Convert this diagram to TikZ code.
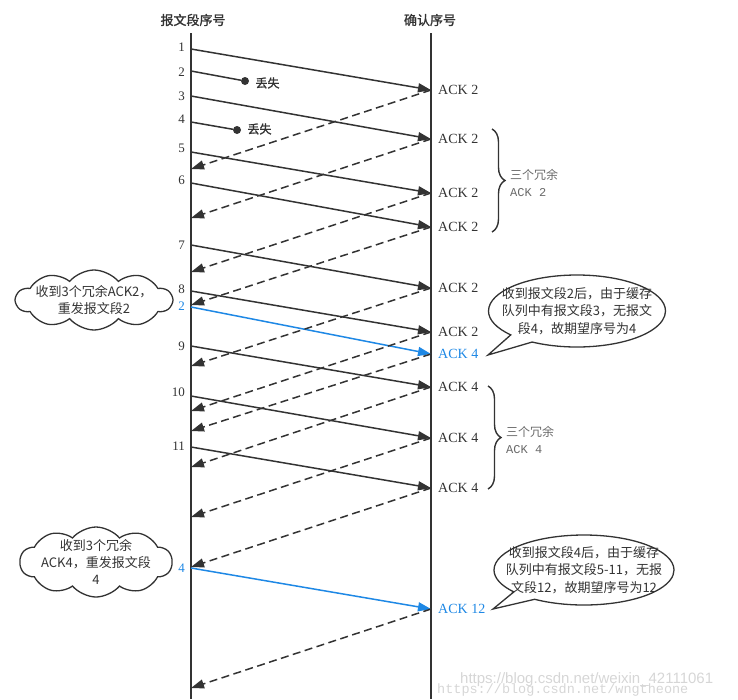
\documentclass[tikz,border=0pt]{standalone}
\usepackage{fontspec}
\setmainfont{Liberation Serif}
\setmonofont{Liberation Mono}
\newfontfamily\cjk{Noto Sans CJK SC}
\newfontfamily\cjkb[FakeBold=1.5]{Noto Sans CJK SC}
\newfontfamily\wmsans{Liberation Sans}
\usetikzlibrary{arrows.meta, decorations.pathreplacing, shapes.symbols, shapes.callouts}
\definecolor{linegray}{RGB}{51,51,51}
\definecolor{ackblue}{RGB}{30,136,229}
\definecolor{notegray}{RGB}{105,105,105}
\definecolor{markgray}{RGB}{214,214,214}
\tikzset{
  timeline/.style={line width=2.4pt, linegray},
  seg/.style={-{Triangle[length=13,width=9]}, line width=1.5pt, linegray},
  ack/.style={seg, dash pattern=on 8pt off 4.5pt},
  resend/.style={seg, ackblue},
  lostdot/.style={circle, fill=linegray, inner sep=0, minimum size=8},
  num/.style={anchor=east, inner sep=0, text=linegray, font=\fontsize{13}{13}\selectfont},
  acklabel/.style={anchor=west, inner sep=0, text=linegray, font=\fontsize{14}{14}\selectfont},
  head/.style={text=linegray, font=\cjkb\fontsize{13}{13}\selectfont},
  losttext/.style={anchor=west, text=linegray, font=\cjkb\fontsize{12}{12}\selectfont},
  dupbrace/.style={decorate, decoration={brace, amplitude=13pt, aspect=0.5}, line width=1.4pt, linegray},
  duptext/.style={anchor=west, align=left, inner sep=0, text=notegray, font=\fontsize{12}{17}\selectfont},
  cloudnote/.style={draw=linegray, line width=1.3pt, fill=white, shape=cloud, cloud puffs=10,
    cloud puff arc=100, cloud ignores aspect, inner sep=0},
  bubble/.style={draw=linegray, line width=1.3pt, fill=white, shape=ellipse callout,
    callout pointer arc=18, inner sep=0},
  notetext/.style={align=center, text=linegray, font=\cjk\fontsize{13}{17.5}\selectfont}
}

\begin{document}
\begin{tikzpicture}[x=1pt, y=-1pt]
  \useasboundingbox (0,0) rectangle (738,699);

  % Headers and time lines
  \node[head] (hsend) at (193,20) {报文段序号};
  \node[head] (hack) at (430,20) {确认序号};
  \coordinate (ltop) at (191,33);
  \coordinate (lbot) at (191,699);
  \coordinate (rtop) at (431,33);
  \coordinate (rbot) at (431,699);
  \draw[timeline] (ltop) -- (lbot);
  \draw[timeline] (rtop) -- (rbot);

  % Sent segments
  \coordinate (s1) at (191,49);   \coordinate (r1) at (431,90);
  \coordinate (s2) at (191,71);
  \coordinate (s3) at (191,96);   \coordinate (r3) at (431,139);
  \coordinate (s4) at (191,122);
  \coordinate (s5) at (191,152);  \coordinate (r5) at (431,193);
  \coordinate (s6) at (191,183);  \coordinate (r6) at (431,227);
  \coordinate (s7) at (191,245);  \coordinate (r7) at (431,288);
  \coordinate (s8) at (191,291);  \coordinate (r8) at (431,332);
  \coordinate (sb2) at (191,307); \coordinate (rb2) at (431,354);
  \coordinate (s9) at (191,346);  \coordinate (r9) at (431,387);
  \coordinate (s10) at (191,396); \coordinate (r10) at (431,438);
  \coordinate (s11) at (191,447); \coordinate (r11) at (431,488);
  \coordinate (sb4) at (191,568); \coordinate (rb4) at (431,609);

  \node[num] (n1) at (185,47) {1};
  \node[num] (n2) at (185,72) {2};
  \node[num] (n3) at (185,96) {3};
  \node[num] (n4) at (185,119) {4};
  \node[num] (n5) at (185,148) {5};
  \node[num] (n6) at (185,180) {6};
  \node[num] (n7) at (185,245) {7};
  \node[num] (n8) at (185,289) {8};
  \node[num, text=ackblue] (nb2) at (185,306) {2};
  \node[num] (n9) at (185,346) {9};
  \node[num] (n10) at (185,392) {10};
  \node[num] (n11) at (185,446) {11};
  \node[num, text=ackblue] (nb4) at (185,568) {4};

  \draw[seg] (s1) -- (r1);
  \draw[seg] (s3) -- (r3);
  \draw[seg] (s5) -- (r5);
  \draw[seg] (s6) -- (r6);
  \draw[seg] (s7) -- (r7);
  \draw[seg] (s8) -- (r8);
  \draw[seg] (s9) -- (r9);
  \draw[seg] (s10) -- (r10);
  \draw[seg] (s11) -- (r11);
  \draw[resend] (sb2) -- (rb2);
  \draw[resend] (sb4) -- (rb4);

  % Lost segments
  \node[lostdot] (d2) at (245,81) {};
  \node[lostdot] (d4) at (237,130) {};
  \draw[line width=1.5pt, linegray] (s2) -- (d2);
  \draw[line width=1.5pt, linegray] (s4) -- (d4);
  \node[losttext] (lost2) at (252,83) {丢失};
  \node[losttext] (lost4) at (244,129) {丢失};

  % Returned ACKs
  \coordinate (k1) at (191,169);
  \coordinate (k3) at (191,218);
  \coordinate (k5) at (191,272);
  \coordinate (k6) at (191,305);
  \coordinate (k7) at (191,366);
  \coordinate (k8) at (191,411);
  \coordinate (kb2) at (191,431);
  \coordinate (k9) at (191,467);
  \coordinate (k10) at (191,517);
  \coordinate (k11) at (191,567);
  \coordinate (kb4) at (191,688);
  \draw[ack] (r1) -- (k1);
  \draw[ack] (r3) -- (k3);
  \draw[ack] (r5) -- (k5);
  \draw[ack] (r6) -- (k6);
  \draw[ack] (r7) -- (k7);
  \draw[ack] (r8) -- (k8);
  \draw[ack] (rb2) -- (kb2);
  \draw[ack] (r9) -- (k9);
  \draw[ack] (r10) -- (k10);
  \draw[ack] (r11) -- (k11);
  \draw[ack] (rb4) -- (kb4);

  \node[acklabel] (a1) at (438,90) {ACK 2};
  \node[acklabel] (a3) at (438,139) {ACK 2};
  \node[acklabel] (a5) at (438,193) {ACK 2};
  \node[acklabel] (a6) at (438,227) {ACK 2};
  \node[acklabel] (a7) at (438,288) {ACK 2};
  \node[acklabel] (a8) at (438,332) {ACK 2};
  \node[acklabel, text=ackblue] (ab2) at (438,354) {ACK 4};
  \node[acklabel] (a9) at (438,387) {ACK 4};
  \node[acklabel] (a10) at (438,438) {ACK 4};
  \node[acklabel] (a11) at (438,488) {ACK 4};
  \node[acklabel, text=ackblue] (ab4) at (438,609) {ACK 12};

  % Duplicate ACK braces
  \coordinate (bt1) at (492,129);
  \coordinate (bb1) at (492,232);
  \draw[dupbrace] (bt1) -- (bb1);
  \node[duptext] (dup1) at (510,183) {{\cjk 三个冗余}\\\texttt{ACK 2}};
  \coordinate (bt2) at (488,386);
  \coordinate (bb2) at (488,489);
  \draw[dupbrace] (bt2) -- (bb2);
  \node[duptext] (dup2) at (506,440) {{\cjk 三个冗余}\\\texttt{ACK 4}};

  % Notes
  \node[cloudnote, minimum width=156, minimum height=60] (cloud2) at (94,300) {};
  \node[notetext] (cloud2text) at (cloud2.center) {收到3个冗余ACK2，\\重发报文段2};
  \node[bubble, minimum width=177, minimum height=72, callout absolute pointer={(488,355)}] (bub2) at (577,311) {};
  \node[notetext] (bub2text) at (bub2.center) {收到报文段2后，由于缓存\\队列中有报文段3，无报文\\段4，故期望序号为4};
  \node[cloudnote, minimum width=152, minimum height=70] (cloud4) at (96,562) {};
  \node[notetext, font=\cjk\fontsize{13}{17}\selectfont] (cloud4text) at (cloud4.center) {收到3个冗余\\ACK4，重发报文段\\4};
  \node[bubble, minimum width=180, minimum height=70, callout absolute pointer={(493,609)}] (bub4) at (584,570) {};
  \node[notetext] (bub4text) at (bub4.center) {收到报文段4后，由于缓存\\队列中有报文段5-11，无报\\文段12，故期望序号为12};

  % Watermark
  \node[anchor=west, inner sep=0, text=markgray, font=\ttfamily\fontsize{13.5}{13.5}\selectfont] (mark2) at (437,690) {https://blog.csdn.net/wngtheone};
  \node[anchor=west, inner sep=0, text=markgray, font=\wmsans\fontsize{15}{15}\selectfont] (mark1) at (460,680) {https://blog.csdn.net/weixin\_42111061};
\end{tikzpicture}
\end{document}
